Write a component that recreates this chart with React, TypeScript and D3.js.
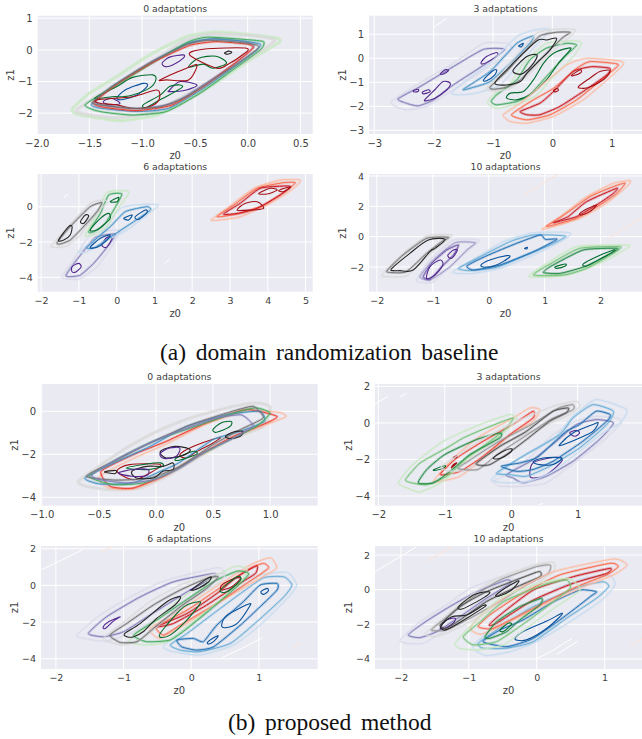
import React, { useEffect, useRef } from 'react'
import * as d3 from 'd3'

type Pt = [number, number]
type Cluster = { shades: string[]; rings: Pt[][]; cores: Pt[][]; faint?: boolean }

const purples = ['#dadaeb', '#bcbddc', '#9e9ac8', '#807dba', '#6a51a3', '#54278f']
const blues = ['#c6dbef', '#9ecae1', '#6baed6', '#4292c6', '#2171b5', '#08519c']
const greens = ['#c7e9c0', '#a1d99b', '#74c476', '#41ab5d', '#238b45', '#006d2c']
const reds = ['#fcbba1', '#fc9272', '#fb6a4a', '#ef3b2c', '#cb181d', '#a50f15']
const greys = ['#d9d9d9', '#bdbdbd', '#969696', '#737373', '#525252', '#252525']

// top row, (a) 0 adaptations
const a0GreenRings: Pt[][] = [
  [[-1.66,-1.85],[-1.5,-1.37],[-1.24,-0.84],[-0.93,-0.16],[-0.58,0.42],[-0.33,0.56],[-0.14,0.53],[0.28,0.37],[0.29,0.21],[0.05,-0.26],[-0.26,-0.95],[-0.58,-1.58],[-0.86,-2.06],[-1.21,-2.24],[-1.5,-2.11],[-1.64,-2]],
  [[-1.54,-1.74],[-1.28,-1.18],[-0.93,-0.47],[-0.58,0.23],[-0.39,0.4],[-0.07,0.34],[0.15,0.26],[0.12,0],[-0.14,-0.63],[-0.45,-1.37],[-0.77,-1.95],[-1.09,-2.06],[-1.4,-1.95]],
]
const a0GreenCores: Pt[][] = [
  [[-1.45,-1.53],[-1.24,-1.16],[-1.09,-0.87],[-0.9,-0.79],[-0.87,-0.95],[-0.93,-1.21],[-1.09,-1.43],[-1.18,-1.48],[-1.28,-1.48]],
  [[-0.99,-1.74],[-0.83,-1.43],[-0.74,-1.16],[-0.64,-1.11],[-0.63,-1.21],[-0.83,-1.58],[-0.96,-1.82]],
  [[-0.56,-0.55],[-0.47,-0.27],[-0.3,-0.2],[-0.2,-0.42],[-0.33,-0.58],[-0.42,-0.45]],
]
const a0BlueRings: Pt[][] = [[[-1.48,-1.72],[-1.26,-1.1],[-0.93,-0.45],[-0.58,0.2],[-0.35,0.34],[-0.05,0.28],[0.12,0.18],[0.08,-0.03],[-0.12,-0.52],[-0.42,-1.22],[-0.75,-1.85],[-1.05,-1.95],[-1.38,-1.85]]]
const a0BlueCores: Pt[][] = [[[-1.24,-1.53],[-1.16,-1.27],[-0.99,-1.06],[-0.95,-1.14],[-1.05,-1.43],[-1.18,-1.57]]]
const a0RedRings: Pt[][] = [[[-1.46,-1.68],[-1.22,-1.04],[-0.9,-0.4],[-0.55,0.14],[-0.3,0.26],[0,0.18],[0.05,0.05],[-0.12,-0.42],[-0.4,-1.12],[-0.72,-1.75],[-1.05,-1.92],[-1.35,-1.82]]]
const a0RedCores: Pt[][] = [
  [[-0.83,-0.95],[-0.58,-0.58],[-0.48,-0.48],[-0.56,-0.95],[-0.77,-0.95]],
  [[-0.55,-0.16],[-0.42,0.02],[-0.01,0.05],[-0.07,-0.21],[-0.17,-0.42],[-0.29,-0.58]],
  [[-1.43,-1.58],[-1.09,-1.48],[-0.86,-1.27],[-0.84,-1.58],[-0.93,-1.8],[-1.09,-1.85],[-1.24,-1.74],[-1.4,-1.69]],
]
const a0PurpleRings: Pt[][] = [[[-1.45,-1.62],[-1.2,-1],[-0.9,-0.35],[-0.56,0.2],[-0.3,0.36],[0,0.24],[0.06,0.1],[-0.1,-0.38],[-0.38,-1.02],[-0.7,-1.68],[-1.02,-1.86],[-1.32,-1.78]]]
const a0PurpleCores: Pt[][] = [
  [[-0.81,-0.42],[-0.74,-0.23],[-0.61,-0.16],[-0.61,-0.26],[-0.71,-0.48],[-0.78,-0.53]],
  [[-0.74,-1.27],[-0.64,-1],[-0.48,-1.11],[-0.58,-1.27],[-0.74,-1.32]],
  [[-1.37,-1.64],[-1.29,-1.53],[-1.21,-1.69],[-1.31,-1.74]],
]
const a0GreyRings: Pt[][] = [
  [[-1.62,-1.9],[-1.35,-1.3],[-1,-0.6],[-0.6,0.3],[-0.35,0.5],[0.05,0.45],[0.26,0.3],[0.05,-0.2],[-0.3,-0.9],[-0.65,-1.55],[-0.9,-1.98],[-1.25,-2.15],[-1.55,-2.02]],
  [[-1.47,-1.64],[-1.24,-1.06],[-0.93,-0.42],[-0.58,0.16],[-0.39,0.3],[-0.14,0.26],[0.08,0.16],[0.1,0.05],[-0.07,-0.37],[-0.33,-0.95],[-0.58,-1.48],[-0.83,-1.8],[-1.08,-1.85],[-1.4,-1.74]],
]
const a0GreyCores: Pt[][] = [[[-0.22,-0.1],[-0.18,-0.04],[-0.15,-0.08],[-0.19,-0.14]]]

// (a) 3 adaptations
const a3PurpleRings: Pt[][] = [
  [[-2.71,-1.8],[-2.29,-1.11],[-1.67,-0.21],[-1.16,0.62],[-0.77,0.62],[-0.69,0.35],[-1.11,-0.42],[-1.67,-1.31],[-2.12,-2],[-2.46,-2.15],[-2.66,-1.98]],
  [[-2.6,-1.69],[-2.23,-1.18],[-1.67,-0.35],[-1.16,0.37],[-0.8,0.37],[-1.11,-0.21],[-1.67,-1.11],[-2,-1.73],[-2.26,-1.98],[-2.46,-1.87]],
]
const a3PurpleCores: Pt[][] = [
  [[-1.2,-0.17],[-1.11,0.07],[-0.94,0.24],[-0.93,0.1],[-1.08,-0.14],[-1.18,-0.24]],
  [[-1.89,-0.65],[-1.81,-0.48],[-1.75,-0.51],[-1.83,-0.65]],
  [[-2.34,-1.34],[-2.26,-1.29],[-2.26,-1.37],[-2.33,-1.4]],
  [[-2.19,-1.41],[-2.09,-1.31],[-2.06,-1.4],[-2.17,-1.48]],
  [[-2.15,-1.73],[-1.98,-1.31],[-1.84,-0.97],[-1.72,-1.04],[-1.78,-1.31],[-1.98,-1.66],[-2.12,-1.77]],
]
const a3BlueRings: Pt[][] = [
  [[-1.7,-1.45],[-1.44,-0.9],[-1.05,-0.21],[-0.6,0.9],[-0.26,1.2],[-0.04,1.18],[-0.32,0.42],[-0.6,-0.35],[-0.88,-1.11],[-1.28,-1.45],[-1.56,-1.52]],
  [[-1.5,-1.29],[-1.05,-0.55],[-0.6,0.62],[-0.32,0.93],[-0.38,0.62],[-0.71,-0.21],[-1.05,-0.97],[-1.39,-1.25]],
]
const a3BlueCores: Pt[][] = [
  [[-1.16,-0.9],[-1.02,-0.55],[-0.94,-0.48],[-0.97,-0.69],[-1.11,-0.94]],
  [[-0.57,0.51],[-0.49,0.62],[-0.52,0.48]],
]
const a3GreenRings: Pt[][] = [
  [[-1.09,-1.87],[-1,-1.52],[-0.71,-1.04],[-0.49,-0.21],[-0.1,0.62],[0.35,0.73],[0.49,0.62],[0.35,0.07],[0.02,-0.76],[-0.26,-1.52],[-0.54,-1.87],[-0.94,-2.08]],
  [[-1.03,-1.8],[-0.94,-1.52],[-0.6,-0.9],[-0.38,-0.07],[-0.1,0.42],[0.24,0.62],[0.41,0.55],[0.24,0.14],[-0.1,-0.76],[-0.38,-1.52],[-0.6,-1.8],[-0.94,-1.94]],
]
const a3GreenCores: Pt[][] = [[[-0.77,-1.66],[-0.71,-1.45],[-0.49,-1.38],[-0.32,-0.9],[-0.15,-0.21],[0.02,0.21],[0.27,0.42],[0.3,0.35],[0.1,-0.21],[-0.1,-0.9],[-0.38,-1.52],[-0.6,-1.73]]]
const a3RedRings: Pt[][] = [
  [[-0.83,-2.35],[-0.54,-1.87],[-0.21,-1.18],[0.24,-0.28],[0.58,0],[1.14,-0.11],[1.19,-0.28],[0.92,-0.9],[0.52,-1.73],[0.02,-2.42],[-0.43,-2.7],[-0.71,-2.63]],
  [[-0.69,-2.35],[-0.32,-1.73],[0.02,-1.25],[0.41,-0.42],[0.63,-0.14],[1.03,-0.21],[1.11,-0.3],[0.86,-0.83],[0.41,-1.73],[-0.04,-2.35],[-0.43,-2.56]],
  [[-0.54,-2.21],[-0.21,-1.87],[0.02,-1.38],[0.35,-0.55],[0.66,-0.35],[0.97,-0.42],[0.92,-0.69],[0.52,-1.38],[0.13,-2],[-0.21,-2.35],[-0.43,-2.35]],
]
const a3RedCores: Pt[][] = [
  [[0.44,-1.18],[0.63,-0.83],[0.8,-0.55],[0.97,-0.51],[0.89,-0.83],[0.63,-1.2],[0.5,-1.25]],
  [[0.02,-1.34],[0.08,-1.26],[0.1,-1.34],[0.04,-1.4]],
  [[0.33,-0.69],[0.47,-0.48],[0.48,-0.6],[0.35,-0.73]],
]
const a3GreyRings: Pt[][] = [
  [[-1.11,-1.25],[-0.88,-0.69],[-0.6,0.14],[-0.26,1.04],[0.02,1.2],[0.38,1.2],[0.3,0.9],[-0.1,0.07],[-0.43,-0.76],[-0.71,-1.25],[-0.99,-1.38]],
  [[-1.05,-1.2],[-0.77,-0.55],[-0.49,0.21],[-0.21,0.93],[0.07,1.08],[0.3,1.08],[0.16,0.83],[-0.21,-0.07],[-0.54,-0.9],[-0.77,-1.2],[-0.99,-1.29]],
]
const a3GreyCores: Pt[][] = [
  [[-0.97,-1.04],[-0.77,-0.48],[-0.49,0.21],[-0.24,0.76],[-0.1,0.76],[0.07,0.83],[-0.04,0.35],[-0.21,-0.07],[-0.43,-0.62],[-0.54,-0.97],[-0.77,-1.11]],
  [[-0.66,-0.48],[-0.43,0.07],[-0.26,0.14],[-0.32,-0.21],[-0.49,-0.62],[-0.6,-0.65]],
]
const a3Strays: Pt[][] = [[[-2,1.29],[-1.78,1.66]],[[0.27,-1.98],[0.44,-1.7]]]

// (a) 6 adaptations
const a6GreyRings: Pt[][] = [
  [[-1.74,-2.23],[-1.32,-1.23],[-0.7,0.19],[-0.34,0.38],[-0.26,0.23],[-0.61,-0.57],[-0.96,-1.6],[-1.32,-2.23],[-1.58,-2.3]],
  [[-1.58,-2.04],[-1.23,-1.13],[-0.7,0],[-0.39,0.23],[-0.52,-0.28],[-0.92,-1.23],[-1.23,-1.89],[-1.49,-2.11]],
]
const a6GreyCores: Pt[][] = [
  [[-1.54,-1.89],[-1.27,-1.13],[-1.18,-1.13],[-1.23,-1.6],[-1.4,-1.89]],
  [[-0.96,-0.85],[-0.83,-0.47],[-0.74,-0.53],[-0.87,-0.94]],
]
const a6GreenRings: Pt[][] = [
  [[-0.83,-1.6],[-0.52,-0.38],[-0.27,0.79],[0.23,0.91],[0.32,0.75],[0.01,-0.19],[-0.26,-1.13],[-0.61,-1.6]],
  [[-0.74,-1.42],[-0.43,-0.38],[-0.21,0.66],[0.14,0.72],[-0.08,-0.19],[-0.34,-1.04],[-0.61,-1.42]],
]
const a6GreenCores: Pt[][] = [
  [[-0.7,-1.32],[-0.43,-0.66],[-0.21,-0.38],[-0.17,-0.66],[-0.3,-0.94],[-0.52,-1.32]],
  [[-0.17,0.28],[0.05,0.53],[0.01,0.28]],
]
const a6BlueRings: Pt[][] = [
  [[-1,-2.55],[-0.43,-1.6],[0.1,-0.09],[0.72,0.13],[1.11,0.09],[0.8,-0.47],[0.27,-1.32],[-0.34,-1.98],[-0.79,-2.55]],
  [[-0.79,-2.3],[-0.17,-1.13],[0.23,-0.28],[0.8,0],[0.89,-0.19],[0.45,-0.85],[-0.08,-1.6],[-0.56,-2.3]],
]
const a6BlueCores: Pt[][] = [
  [[0.49,-0.57],[0.76,-0.19],[0.8,-0.34],[0.58,-0.72]],
  [[0.19,-0.66],[0.41,-0.47],[0.32,-0.75]],
  [[-0.7,-2.3],[-0.43,-1.79],[-0.17,-1.6],[-0.3,-1.98],[-0.52,-2.3]],
]
const a6PurpleRings: Pt[][] = [
  [[-1.45,-3.96],[-1.14,-3.02],[-0.7,-1.6],[0.05,-1.32],[-0.08,-2.08],[-0.52,-3.4],[-0.96,-4.06],[-1.27,-4.11]],
  [[-1.34,-3.87],[-0.96,-2.74],[-0.56,-1.74],[-0.04,-1.55],[-0.21,-2.17],[-0.61,-3.21],[-0.96,-3.87],[-1.23,-3.96]],
]
const a6PurpleCores: Pt[][] = [
  [[-1.18,-3.4],[-1.01,-3.21],[-0.94,-3.4],[-1.07,-3.68],[-1.18,-3.68]],
  [[-0.39,-2.17],[-0.26,-1.74],[-0.12,-1.79],[-0.27,-2.3]],
]
const a6RedRings: Pt[][] = [
  [[2.5,-0.75],[2.92,-0.09],[3.63,1.04],[4.33,1.51],[4.86,1.51],[4.69,1.04],[4.07,0.19],[3.27,-0.57],[2.74,-0.75]],
  [[2.66,-0.57],[3.1,0.09],[3.72,1.04],[4.42,1.36],[4.73,1.36],[4.51,0.94],[3.89,0.09],[3.27,-0.38]],
  [[2.83,-0.42],[3.27,0.19],[3.8,1.04],[4.42,1.17],[4.6,1.13],[4.33,0.66],[3.72,-0.09],[3.19,-0.38]],
]
const a6RedCores: Pt[][] = [
  [[3.19,-0.19],[3.41,0.19],[3.72,0.28],[3.89,-0.09],[3.54,-0.19]],
  [[3.76,0.75],[4.07,1.04],[4.25,0.94],[3.98,0.72]],
  [[4.29,0.91],[4.51,1.09],[4.6,1.09],[4.42,0.85]],
]
const a6Strays: Pt[][] = [[[-1.4,0.51],[-1.29,0.7]],[[1.27,-3.21],[1.4,-2.96]]]

// (a) 10 adaptations
const a10GreyRings: Pt[][] = [
  [[-1.91,-2.53],[-1.59,-1.32],[-1.11,0.04],[-0.66,0.11],[-0.78,-0.33],[-1.11,-1.32],[-1.47,-2.59],[-1.82,-2.64]],
  [[-1.82,-2.26],[-1.53,-1.21],[-1.11,-0.11],[-0.72,-0.04],[-0.84,-0.33],[-1.11,-1.1],[-1.47,-2.31],[-1.73,-2.37]],
]
const a10GreyCores: Pt[][] = [[[-1.73,-2.09],[-1.41,-1.1],[-1.08,-0.22],[-0.78,-0.18],[-0.96,-0.77],[-1.05,-0.99],[-1.35,-2.2],[-1.59,-2.24],[-1.71,-2.24]]]
const a10PurpleRings: Pt[][] = [
  [[-1.29,-2.86],[-1.05,-1.54],[-0.63,-0.22],[-0.17,-0.22],[-0.33,-0.77],[-0.63,-1.76],[-0.99,-2.97],[-1.2,-3.03]],
  [[-1.23,-2.64],[-0.99,-1.54],[-0.6,-0.4],[-0.24,-0.4],[-0.39,-0.88],[-0.69,-1.98],[-1.05,-2.86]],
  [[-1.17,-2.64],[-1.02,-1.76],[-0.75,-0.88],[-0.54,-0.55],[-0.63,-1.21],[-0.84,-1.98],[-1.05,-2.81]],
]
const a10PurpleCores: Pt[][] = [
  [[-0.73,-1.21],[-0.63,-0.88],[-0.56,-0.88],[-0.63,-1.32],[-0.69,-1.43]],
  [[-1.11,-2.75],[-1.05,-1.98],[-0.87,-1.54],[-0.82,-1.87],[-0.96,-2.53]],
]
const a10BlueRings: Pt[][] = [
  [[-0.64,-2.31],[-0.33,-1.65],[0.26,-0.33],[0.8,0.26],[1.45,0.26],[1.34,-0.22],[0.8,-1.21],[0.2,-2.09],[-0.27,-2.42],[-0.57,-2.42]],
  [[-0.54,-2.09],[-0.15,-1.32],[0.38,-0.33],[0.8,0.11],[1.37,0.04],[1.16,-0.44],[0.68,-1.21],[0.14,-2.02],[-0.33,-2.24]],
  [[-0.39,-1.93],[-0.04,-1.27],[0.5,-0.44],[0.92,0.11],[1.01,-0.18],[1.22,-0.18],[0.8,-0.99],[0.2,-1.87],[-0.27,-2.2]],
]
const a10BlueCores: Pt[][] = [
  [[-0.14,-1.87],[0.02,-1.54],[0.32,-1.25],[0.37,-1.36],[0.14,-1.87],[-0.07,-2.02]],
  [[0.64,-0.77],[0.69,-0.7],[0.68,-0.81]],
]
const a10GreenRings: Pt[][] = [
  [[0.71,-2.64],[1.04,-1.76],[1.57,-0.66],[2.47,-0.55],[2.5,-0.7],[2.11,-1.54],[1.51,-2.42],[1.16,-2.64]],
  [[0.8,-2.53],[1.1,-1.8],[1.63,-0.77],[2.35,-0.66],[2.23,-1.1],[1.75,-2.09],[1.34,-2.53]],
  [[0.98,-2.37],[1.1,-1.98],[1.69,-0.88],[2.29,-0.77],[2.23,-0.99],[1.75,-1.93],[1.28,-2.42]],
]
const a10GreenCores: Pt[][] = [
  [[1.69,-1.8],[1.93,-1.32],[2.23,-0.88],[2.23,-0.99],[2.02,-1.43],[1.75,-1.93]],
  [[1.19,-1.98],[1.37,-1.8],[1.37,-1.93],[1.22,-2.09]],
]
const a10RedRings: Pt[][] = [
  [[0.95,0.48],[1.28,1.32],[1.75,2.64],[2.23,3.52],[2.53,3.69],[2.47,3.3],[2.11,2.2],[1.63,1.21],[1.16,0.66]],
  [[1.04,0.7],[1.39,1.54],[1.81,2.64],[2.23,3.3],[2.44,3.52],[2.29,2.86],[1.99,2.09],[1.57,1.21],[1.16,0.77]],
  [[1.16,0.92],[1.42,1.32],[1.75,2.31],[2.29,3.19],[2.23,2.86],[1.93,2.09],[1.57,1.32],[1.28,1.03]],
]
const a10RedCores: Pt[][] = [[[1.63,1.54],[1.78,1.87],[1.93,2.09],[1.81,1.65],[1.66,1.43]]]
const a10PaleStrays: Pt[][] = [[[0.63,2.75],[1.25,4.13]],[[2.14,-0.11],[2.74,1.27]]]

// (b) 0 adaptations
const b0GreyRings: Pt[][] = [
  [[-0.68,-3.26],[-0.52,-2.64],[-0.26,-1.71],[0.01,-0.93],[0.3,-0.31],[0.68,0.23],[0.88,0.39],[1,0.2],[0.94,-0.7],[0.65,-1.32],[0.39,-2.09],[0.12,-2.95],[-0.14,-3.57],[-0.4,-3.64],[-0.61,-3.49]],
  [[-0.61,-3.02],[-0.34,-2.25],[-0.05,-1.47],[0.27,-0.7],[0.62,-0.08],[0.85,0.23],[0.94,-0.31],[0.74,-0.85],[0.5,-1.55],[0.21,-2.56],[-0.05,-3.1],[-0.35,-3.2]],
]
const b0GreyCores: Pt[][] = [
  [[0.61,-1.16],[0.68,-0.96],[0.76,-0.93],[0.74,-1.16],[0.65,-1.27]],
  [[-0.45,-2.82],[-0.35,-2.75],[-0.36,-2.9]],
  [[-0.21,-2.79],[-0.08,-2.56],[0.06,-2.56],[0.15,-2.4],[0.15,-2.71],[0.06,-2.79],[-0.02,-3.1],[-0.17,-3.1]],
  [[0.04,-1.86],[0.17,-1.63],[0.3,-1.78],[0.24,-2.05],[0.09,-2.17]],
]
const b0OrangeRings: Pt[][] = [
  [[-0.5,-3.05],[-0.2,-2.2],[0.1,-1.5],[0.44,-0.6],[0.8,0.02],[1.08,-0.05],[1.14,-0.25],[0.97,-0.62],[0.68,-1.22],[0.36,-2.15],[0.09,-3],[-0.2,-3.62],[-0.42,-3.55]],
  [[-0.48,-2.79],[-0.2,-2.02],[0.09,-1.4],[0.44,-0.54],[0.79,0.08],[1.06,-0.23],[0.97,-0.54],[0.68,-1.16],[0.36,-2.09],[0.09,-2.95],[-0.2,-3.57],[-0.4,-3.49]],
]
const b0OrangeCores: Pt[][] = [
  [[0.21,-2.02],[0.33,-1.63],[0.56,-1.21],[0.5,-1.47],[0.36,-1.86],[0.27,-2.17]],
  [[-0.34,-2.79],[-0.23,-2.48],[0.04,-2.48],[-0.08,-2.95],[-0.2,-3.18]],
]
const b0GreenRings: Pt[][] = [
  [[-0.58,-3.02],[-0.29,-2.09],[0.01,-1.32],[0.39,-0.62],[0.74,0],[0.88,0.16],[1,-0.08],[0.88,-0.7],[0.62,-1.4],[0.39,-2.02],[0.15,-2.79],[-0.11,-3.33],[-0.37,-3.41]],
]
const b0GreenCores: Pt[][] = [
  [[0.5,-0.85],[0.57,-0.54],[0.66,-0.47],[0.65,-0.7],[0.56,-0.93],[0.52,-0.98]],
  [[0.18,-2.17],[0.33,-1.86],[0.36,-1.98],[0.27,-2.17],[0.18,-2.29]],
  [[-0.26,-2.64],[-0.08,-2.45],[0.04,-2.4],[0.06,-2.56],[-0.08,-2.71]],
]
const b0BlueRings: Pt[][] = [
  [[-0.62,-3.1],[-0.34,-2.33],[-0.05,-1.63],[0.27,-0.7],[0.62,-0.16],[0.91,0],[0.95,-0.47],[0.74,-0.93],[0.5,-1.32],[0.2,-2.4],[0.04,-2.79],[-0.2,-3.33],[-0.49,-3.38]],
]
const b0PurpleRings: Pt[][] = [
  [[-0.56,-2.95],[-0.32,-2.17],[-0.05,-1.47],[0.24,-0.85],[0.53,-0.31],[0.74,-0.16],[0.81,-0.39],[0.85,-0.7],[0.68,-1.24],[0.44,-1.86],[0.21,-2.64],[-0.02,-3.18],[-0.26,-3.33],[-0.49,-3.18]],
]
const b0PurpleCores: Pt[][] = [
  [[0.04,-1.94],[0.12,-1.71],[0.21,-1.71],[0.18,-2.09],[0.09,-2.2],[0.05,-2.14]],
  [[-0.33,-2.87],[-0.2,-2.71],[-0.07,-2.71],[-0.08,-2.98],[-0.21,-3.02]],
]

// (b) 3 adaptations
const b3GreenRings: Pt[][] = [
  [[-1.7,-3.28],[-1.48,-2.28],[-1.02,-1],[-0.47,-0.09],[-0.02,0.46],[0.08,0.18],[-0.17,-0.73],[-0.67,-2],[-1.02,-3.19],[-1.37,-3.78],[-1.57,-3.55]],
  [[-1.59,-3.1],[-1.37,-2.19],[-0.97,-1.37],[-0.72,-0.82],[-0.37,-0.27],[0.03,0.27],[-0.15,-0.55],[-0.67,-1.92],[-0.97,-2.92],[-1.27,-3.38],[-1.5,-3.28]],
  [[-1.4,-3.28],[-1.27,-2.55],[-1,-1.73],[-0.52,-0.91],[-0.17,-0.55],[-0.17,-0.82],[-0.62,-1.73],[-0.92,-2.65],[-1.17,-3.28]],
]
const b3GreenCores: Pt[][] = [[[-1.16,-2.55],[-1,-2.34],[-1.01,-2.46],[-1.15,-2.6]]]
const b3RedRings: Pt[][] = [
  [[-1.17,-3.19],[-0.87,-1.92],[-0.47,-0.73],[0.03,0.27],[0.28,0.82],[0.43,0.73],[0.33,0.09],[-0.07,-0.82],[-0.47,-2.1],[-0.77,-2.92],[-1.02,-3.16]],
  [[-1.07,-2.83],[-0.82,-1.92],[-0.42,-1],[0.06,0],[0.33,0.64],[0.33,0.27],[-0.02,-0.64],[-0.42,-1.82],[-0.77,-2.65]],
]
const b3RedCores: Pt[][] = [
  [[-0.87,-1.88],[-0.82,-1.8],[-0.83,-1.92]],
  [[-0.87,-2.28],[-0.9,-2.46],[-0.82,-2.19]],
]
const b3GreyRings: Pt[][] = [
  [[-1.05,-2.37],[-0.82,-1.82],[-0.52,-1.09],[-0.02,-0.09],[0.63,0.91],[0.98,1.19],[1.03,0.91],[0.88,0.46],[0.43,-0.27],[-0.07,-1.09],[-0.37,-1.82],[-0.67,-2.55],[-0.87,-2.65],[-1.02,-2.55]],
  [[-0.65,-2.1],[-0.2,-1.05],[0.3,-0.1],[0.72,0.82],[0.93,1],[0.93,0.72],[0.6,0.2],[0.2,-0.75],[-0.2,-1.7],[-0.5,-2.55],[-0.8,-2.5]],
  [[-0.52,-2.19],[-0.17,-1.28],[0.23,-0.46],[0.63,0.64],[0.86,0.82],[0.83,0.55],[0.58,0.09],[0.23,-0.91],[-0.07,-1.73],[-0.32,-2.28],[-0.47,-2.32]],
]
const b3GreyCores: Pt[][] = [[[-0.27,-1.92],[-0.12,-1.55],[0.01,-1.42],[-0.02,-1.64],[-0.17,-1.95]]]
const b3BlueRings: Pt[][] = [
  [[-0.3,-3.1],[0.13,-1.92],[0.63,-0.91],[0.93,0.36],[1.28,1.28],[1.74,0.73],[1.64,0],[1.38,-0.55],[1.03,-1.55],[0.63,-2.65],[0.28,-3.19],[-0.07,-3.28]],
  [[-0.22,-2.74],[0.18,-1.82],[0.73,-0.64],[0.93,0.27],[1.23,1],[1.54,0.64],[1.44,-0.09],[1.03,-1.37],[0.58,-2.37],[0.23,-2.92],[-0.02,-2.83]],
  [[-0.15,-2.37],[0.13,-2.19],[0.38,-1.92],[0.58,-1.28],[0.83,-0.46],[1.03,-0.09],[1.28,0.64],[1.49,0.46],[1.44,0.09],[1.08,-1],[0.63,-2.1],[0.33,-2.55],[0.08,-2.65]],
]
const b3BlueCores: Pt[][] = [
  [[0.73,-1.19],[0.93,-0.55],[1.23,-0.09],[1.31,0],[1.23,-0.46],[1.03,-0.82],[0.78,-1.19]],
  [[0.33,-2.13],[0.48,-1.92],[0.76,-1.92],[0.63,-2.28],[0.43,-2.28]],
]
const b3PurpleRings: Pt[][] = [
  [[-0.27,-3.19],[-0.07,-2.83],[0.33,-1.73],[0.63,-0.64],[0.98,0.09],[1.28,0.36],[1.59,0.27],[1.66,0],[1.38,-1],[0.98,-2.1],[0.53,-3.28],[0.13,-3.47],[-0.17,-3.47]],
  [[-0.07,-2.83],[0.33,-2.01],[0.68,-1],[0.98,-0.09],[1.28,0.18],[1.54,0],[1.33,-0.91],[0.93,-2.1],[0.53,-2.92],[0.18,-3.28],[0.03,-3.01]],
]
const b3PurpleCores: Pt[][] = [
  [[0.28,-2.83],[0.33,-2.19],[0.58,-1.92],[0.76,-1.92],[0.74,-2.19],[0.53,-2.83],[0.33,-3.01]],
  [[0.88,-0.55],[0.98,-0.4],[1.03,-0.55],[0.96,-0.73]],
]
const b3Strays: Pt[][] = [[[-2.05,1.04],[-1.85,1.46]],[[-1.68,1.41],[-1.57,1.64]],[[0.41,-4.5],[0.48,-4.38]]]

// (b) 6 adaptations
const b6PurpleRings: Pt[][] = [
  [[-1.69,-2.71],[-1.35,-1.62],[-0.85,-0.53],[-0.36,0.29],[0.33,0.93],[0.45,0.93],[0.48,0.56],[0.13,-0.25],[-0.36,-1.44],[-0.85,-2.53],[-1.25,-3.04],[-1.59,-2.89]],
  [[-1.52,-2.62],[-1.25,-1.71],[-0.75,-0.62],[-0.26,0.2],[0.33,0.65],[0.33,0.47],[-0.06,-0.35],[-0.61,-1.62],[-1,-2.53],[-1.3,-2.8]],
]
const b6PurpleCores: Pt[][] = [
  [[-1.3,-2.25],[-1.22,-1.98],[-1.05,-1.71],[-1.15,-1.95],[-1.27,-2.35]],
  [[-0.01,-0.25],[0.13,0.02],[0.23,0.2],[0.18,0.02],[0.03,-0.25]],
]
const b6GreyRings: Pt[][] = [
  [[-1.3,-2.89],[-1.05,-2.16],[-0.61,-0.89],[-0.16,0.02],[0.28,0.56],[0.5,0.65],[0.43,0.2],[0.03,-0.71],[-0.36,-1.8],[-0.71,-2.89],[-1,-3.25],[-1.15,-3.16]],
  [[-1.2,-2.71],[-0.95,-2.07],[-0.56,-1.07],[-0.16,-0.25],[0.23,0.38],[0.4,0.47],[0.23,-0.16],[-0.16,-1.16],[-0.56,-2.35],[-0.8,-3.07],[-1.05,-3.11]],
]
const b6GreyCores: Pt[][] = [
  [[-0.98,-2.62],[-0.75,-2.07],[-0.36,-0.89],[-0.16,-0.62],[-0.24,-1.07],[-0.51,-1.8],[-0.71,-2.53],[-0.85,-2.8],[-0.95,-2.8]],
  [[0.01,-0.25],[0.13,0.11],[0.29,0.47],[0.26,0.2],[0.11,-0.16]],
]
const b6GreenRings: Pt[][] = [
  [[-0.93,-3.07],[-0.61,-2.16],[-0.21,-0.89],[0.23,0.2],[0.63,1.02],[0.82,0.93],[0.77,0.38],[0.43,-0.8],[0.03,-1.98],[-0.36,-3.07],[-0.66,-3.25]],
  [[-0.85,-2.71],[-0.51,-1.89],[-0.11,-0.89],[0.33,0.2],[0.68,0.78],[0.85,0.65],[0.73,0.11],[0.33,-1.16],[-0.06,-2.35],[-0.31,-2.98],[-0.66,-3.07]],
]
const b6GreenCores: Pt[][] = [
  [[-0.47,-2.71],[-0.36,-2.16],[-0.11,-1.16],[0.13,-0.89],[0.08,-1.25],[-0.11,-2.07],[-0.31,-2.71],[-0.43,-2.84]],
  [[0.43,-0.25],[0.68,0.47],[0.73,0.29],[0.53,-0.35]],
]
const b6RedRings: Pt[][] = [
  [[-0.61,-2.35],[-0.16,-1.35],[0.33,-0.16],[0.87,1.11],[1.17,1.51],[1.26,0.93],[0.97,0.29],[0.43,-0.89],[-0.06,-2.07],[-0.46,-2.89]],
  [[-0.51,-2.25],[-0.06,-1.35],[0.38,-0.25],[0.87,0.93],[1.07,1.2],[1.14,0.93],[0.82,0.11],[0.38,-0.98],[-0.16,-2.16],[-0.41,-2.71]],
  [[-0.51,-2.25],[-0.06,-1.53],[0.38,-0.44],[0.68,0.47],[0.97,1.07],[0.95,0.65],[0.68,0.02],[0.23,-1.07],[-0.26,-2.07]],
]
const b6RedCores: Pt[][] = [[[0.45,0.02],[0.63,0.38],[0.73,0.38],[0.6,-0.07],[0.45,-0.25]]]
const b6BlueRings: Pt[][] = [
  [[-0.41,-3.35],[-0.16,-2.53],[0.23,-1.53],[0.63,-0.35],[1.02,0.56],[1.42,0.71],[1.56,0.02],[1.42,-0.71],[1.02,-2.16],[0.63,-3.25],[0.13,-3.8],[-0.26,-3.62]],
  [[-0.31,-3.25],[-0.06,-2.62],[0.33,-1.53],[0.73,-0.44],[1.07,0.42],[1.37,0.47],[1.49,0.02],[1.37,-0.62],[0.97,-1.98],[0.58,-3.16],[0.13,-3.62],[-0.16,-3.53]],
  [[-0.21,-2.98],[0.03,-2.89],[0.18,-3.07],[0.38,-2.16],[0.77,-0.89],[1.02,0.02],[1.27,0.11],[1.27,-0.25],[1.02,-1.16],[0.73,-2.16],[0.33,-3.35],[0.08,-3.53],[-0.14,-3.35]],
]
const b6BlueCores: Pt[][] = [
  [[0.45,-2.16],[0.53,-1.62],[0.85,-1.02],[0.86,-1.16],[0.68,-2.07],[0.5,-2.31]],
  [[0.24,-3.11],[0.33,-2.85],[0.4,-2.76],[0.33,-3.07],[0.26,-3.2]],
  [[1.03,-0.35],[1.12,-0.16],[1.14,-0.31],[1.07,-0.49]],
]
const b6Strays: Pt[][] = [[[-2.22,0.84],[-1.71,1.75],[-1.59,1.98]],[[0.45,-3.95],[0.8,-3.35],[1.05,-2.85]]]
const b6PaleStrays: Pt[][] = [[[-1.32,1.84],[-1.17,2.11]],[[1.52,-3.4],[1.61,-3.16]]]

// (b) 10 adaptations
const b10PurpleRings: Pt[][] = [
  [[-2.01,-2.9],[-1.72,-1.85],[-1.33,-0.88],[-0.98,0.08],[-0.59,0.65],[-0.44,0.75],[-0.29,0.46],[-0.59,-0.21],[-1.03,-1.46],[-1.37,-2.42],[-1.67,-3.1],[-1.91,-3.1]],
  [[-1.89,-2.62],[-1.67,-1.94],[-1.28,-0.98],[-0.88,-0.12],[-0.44,0.56],[-0.39,0.37],[-0.74,-0.5],[-1.13,-1.56],[-1.47,-2.42],[-1.72,-2.77]],
]
const b10PurpleCores: Pt[][] = [[[-1.42,-2.23],[-1.33,-1.75],[-1.2,-1.65],[-1.23,-1.94],[-1.35,-2.23]]]
const b10GreyRings: Pt[][] = [
  [[-1.64,-2.52],[-1.37,-1.65],[-1.03,-0.5],[-0.59,0.65],[0,1.46],[0.25,1.58],[0.25,1.04],[-0.05,0.27],[-0.54,-0.88],[-0.98,-1.85],[-1.33,-2.52],[-1.52,-2.71]],
  [[-1.55,-2.33],[-1.28,-1.46],[-0.93,-0.4],[-0.54,0.56],[0,1.33],[0.2,1.42],[0.17,0.94],[-0.15,0.27],[-0.59,-0.79],[-1.03,-1.75],[-1.33,-2.33]],
  [[-1.42,-2.04],[-1.13,-0.98],[-0.74,-0.12],[-0.05,0.94],[0.05,1.04],[0.05,0.75],[-0.34,0.08],[-0.74,-0.69],[-1.13,-1.75],[-1.33,-2.23]],
]
const b10GreyCores: Pt[][] = [
  [[-1.41,-2.08],[-1.25,-1.56],[-1.03,-1.46],[-0.79,-0.92],[-0.76,-0.98],[-1.03,-1.65],[-1.28,-2.23],[-1.37,-2.33]],
  [[-1.15,-0.98],[-0.93,-0.31],[-0.71,-0.12],[-0.71,-0.27],[-0.88,-0.69],[-1.1,-1.12]],
  [[-0.6,-0.31],[-0.39,0.27],[-0.26,0.5],[-0.37,-0.02],[-0.54,-0.35]],
]
const b10RedRings: Pt[][] = [
  [[-0.98,-2.23],[-0.79,-1.37],[-0.34,-0.12],[0.25,1.04],[1.13,1.77],[1.33,1.42],[1.13,0.85],[0.64,0.08],[0,-1.08],[-0.54,-2.13],[-0.83,-2.58]],
  [[-0.86,-2.13],[-0.69,-1.46],[-0.25,-0.31],[0.34,0.85],[1.08,1.52],[1.2,1.33],[1.03,0.85],[0.59,0.17],[-0.05,-1.08],[-0.64,-2.23]],
  [[-0.7,-2.04],[-0.54,-1.46],[-0.05,-0.02],[0.54,0.75],[1.08,1.23],[1.03,0.94],[0.54,0.37],[-0.05,-0.6],[-0.59,-1.94]],
]
const b10BlueRings: Pt[][] = [
  [[-0.93,-3.19],[-0.64,-2.23],[-0.15,-1.08],[0.25,-0.02],[0.69,0.65],[1.08,0.81],[1.15,0.27],[0.96,-0.6],[0.49,-1.85],[0,-3],[-0.39,-3.58],[-0.74,-3.81],[-0.91,-3.48]],
  [[-0.86,-3.1],[-0.59,-2.33],[-0.05,-0.98],[0.64,0.17],[0.98,0.46],[1.06,0.17],[0.88,-0.5],[0.44,-1.65],[-0.05,-3],[-0.44,-3.38],[-0.79,-3.38]],
  [[-0.79,-3],[-0.54,-2.33],[-0.2,-1.75],[0.25,-0.69],[0.64,-0.02],[0.88,-0.12],[0.79,-0.4],[0.44,-1.46],[-0.05,-2.81],[-0.44,-3.29]],
]
const b10BlueCores: Pt[][] = [[[-0.32,-2.85],[-0.2,-2.42],[0.15,-1.81],[0.38,-1.37],[0.15,-2.23],[-0.15,-2.9]]]
const b10GreenRings: Pt[][] = [
  [[-1.2,-3.1],[-1.03,-2.33],[-0.54,-0.5],[0.05,0.37],[0.47,0.65],[0.64,-0.02],[0.25,-1.08],[-0.15,-2.23],[-0.49,-3.19],[-0.88,-3.48],[-1.13,-3.39]],
  [[-1.08,-2.71],[-0.83,-1.85],[-0.49,-0.69],[0.1,0.27],[0.44,0.56],[0.49,0.08],[0.15,-0.98],[-0.25,-2.13],[-0.59,-3],[-0.93,-3.19]],
  [[-0.76,-2.71],[-0.59,-1.85],[-0.25,-0.98],[0.07,-0.5],[0.05,-0.88],[-0.25,-1.75],[-0.44,-2.42],[-0.69,-2.81]],
]
const b10GreenCores: Pt[][] = [[[-0.54,-2.33],[-0.42,-1.94],[-0.37,-2],[-0.49,-2.42]]]
const b10Strays: Pt[][] = [[[-2.38,1.04],[-2.01,1.9],[-1.77,2.48]],[[0,-3.96],[0.17,-3.67],[0.52,-2.81]],[[0.3,-3.73],[0.61,-2.96]]]
const b10PaleStrays: Pt[][] = [[[-1.62,1.65],[-1.25,2.48]],[[1.37,-3.23],[1.55,-2.85]]]

const panels = [
  {
    title: '0 adaptations', box: [37.7, 312.7, 15.7, 134], xd: [-1.99, 0.617], yd: [1.08, -2.66],
    xt: [-2, -1.5, -1, -0.5, 0, 0.5], yt: [1, 0, -1, -2], xf: '.1f', fs: 10,
    clusters: [
      { shades: greens, rings: [a0GreenRings[0]], cores: [], faint: true },
      { shades: greys, rings: [a0GreyRings[0]], cores: [], faint: true },
      { shades: purples, rings: a0PurpleRings, cores: a0PurpleCores },
      { shades: blues, rings: a0BlueRings, cores: a0BlueCores },
      { shades: greens, rings: [a0GreenRings[1]], cores: a0GreenCores },
      { shades: reds, rings: a0RedRings, cores: a0RedCores },
      { shades: greys, rings: [a0GreyRings[1]], cores: a0GreyCores },
    ] as Cluster[],
  },
  {
    title: '3 adaptations', box: [369, 642, 15.7, 134], xd: [-3.09, 1.51], yd: [1.77, -3.15],
    xt: [-3, -2, -1, 0, 1], yt: [1, 0, -1, -2, -3], xf: 'd', fs: 10,
    clusters: [
      { shades: purples, rings: a3PurpleRings, cores: a3PurpleCores },
      { shades: blues, rings: a3BlueRings, cores: a3BlueCores },
      { shades: greens, rings: a3GreenRings, cores: a3GreenCores },
      { shades: reds, rings: a3RedRings, cores: a3RedCores },
      { shades: greys, rings: a3GreyRings, cores: a3GreyCores },
    ] as Cluster[],
    strays: a3Strays,
  },
  {
    title: '6 adaptations', box: [37.7, 312.7, 174, 291.7], xd: [-2.09, 5.19], yd: [1.85, -4.81],
    xt: [-2, -1, 0, 1, 2, 3, 4, 5], yt: [0, -2, -4], xf: 'd', fs: 9.5,
    clusters: [
      { shades: purples, rings: a6PurpleRings, cores: a6PurpleCores },
      { shades: blues, rings: a6BlueRings, cores: a6BlueCores },
      { shades: greens, rings: a6GreenRings, cores: a6GreenCores },
      { shades: reds, rings: a6RedRings, cores: a6RedCores },
      { shades: greys, rings: a6GreyRings, cores: a6GreyCores },
    ] as Cluster[],
    strays: a6Strays,
  },
  {
    title: '10 adaptations', box: [369, 642, 174, 291.7], xd: [-2.14, 2.74], yd: [4.13, -3.63],
    xt: [-2, -1, 0, 1, 2], yt: [4, 2, 0, -2], xf: 'd', fs: 9.5,
    clusters: [
      { shades: purples, rings: a10PurpleRings, cores: a10PurpleCores },
      { shades: blues, rings: a10BlueRings, cores: a10BlueCores },
      { shades: greens, rings: a10GreenRings, cores: a10GreenCores },
      { shades: reds, rings: a10RedRings, cores: a10RedCores },
      { shades: greys, rings: a10GreyRings, cores: a10GreyCores },
    ] as Cluster[],
    pale: a10PaleStrays,
  },
  {
    title: '0 adaptations', box: [41, 317.7, 384, 505.7], xd: [-1.006, 1.417], yd: [1.27, -4.39],
    xt: [-1, -0.5, 0, 0.5, 1], yt: [0, -2, -4], xf: '.1f', fs: 10,
    clusters: [
      { shades: greys, rings: [b0GreyRings[0]], cores: [], faint: true },
      { shades: reds, rings: b0OrangeRings, cores: b0OrangeCores },
      { shades: blues, rings: b0BlueRings, cores: [] },
      { shades: greens, rings: b0GreenRings, cores: b0GreenCores },
      { shades: greys, rings: [b0GreyRings[1]], cores: b0GreyCores },
      { shades: purples, rings: b0PurpleRings, cores: b0PurpleCores },
    ] as Cluster[],
  },
  {
    title: '3 adaptations', box: [375, 642, 384, 505.7], xd: [-2.05, 1.97], yd: [2.13, -4.53],
    xt: [-2, -1, 0, 1], yt: [2, 0, -2, -4], xf: 'd', fs: 10,
    clusters: [
      { shades: purples, rings: b3PurpleRings, cores: b3PurpleCores },
      { shades: blues, rings: b3BlueRings, cores: b3BlueCores },
      { shades: reds, rings: b3RedRings, cores: b3RedCores },
      { shades: greens, rings: b3GreenRings, cores: b3GreenCores },
      { shades: greys, rings: b3GreyRings, cores: b3GreyCores },
    ] as Cluster[],
    strays: b3Strays,
  },
  {
    title: '6 adaptations', box: [41, 317.7, 546, 669], xd: [-2.22, 1.87], yd: [2.15, -4.56],
    xt: [-2, -1, 0, 1], yt: [2, 0, -2, -4], xf: 'd', fs: 9.5,
    clusters: [
      { shades: purples, rings: b6PurpleRings, cores: b6PurpleCores },
      { shades: blues, rings: b6BlueRings, cores: b6BlueCores },
      { shades: reds, rings: b6RedRings, cores: b6RedCores },
      { shades: greens, rings: b6GreenRings, cores: b6GreenCores },
      { shades: greys, rings: b6GreyRings, cores: b6GreyCores },
    ] as Cluster[],
    strays: b6Strays,
    pale: b6PaleStrays,
  },
  {
    title: '10 adaptations', box: [375, 642, 546, 669], xd: [-2.38, 1.55], yd: [2.52, -4.58],
    xt: [-2, -1, 0, 1], yt: [2, 0, -2, -4], xf: 'd', fs: 9.5,
    clusters: [
      { shades: purples, rings: b10PurpleRings, cores: b10PurpleCores },
      { shades: greys, rings: b10GreyRings, cores: b10GreyCores },
      { shades: blues, rings: b10BlueRings, cores: b10BlueCores },
      { shades: reds, rings: b10RedRings, cores: [] },
      { shades: greens, rings: b10GreenRings, cores: b10GreenCores },
    ] as Cluster[],
    strays: b10Strays,
    pale: b10PaleStrays,
  },
]

const captions = [
  { text: '(a) domain randomization baseline', x: 160, y: 360 },
  { text: '(b) proposed method', x: 228, y: 730 },
]

// which palette shade each ring gets, by how many rings the cluster has
const ringShade: Record<number, number[]> = { 1: [3], 2: [0, 3], 3: [0, 2, 4], 4: [0, 1, 3, 4] }

const App = () => {
  const svgRef = useRef<SVGSVGElement>(null)

  useEffect(() => {
    const svg = d3.select(svgRef.current)
    svg.selectAll('*').remove()

    const filter = svg.append('defs').append('filter').attr('id', 'soft')
    filter.append('feGaussianBlur').attr('stdDeviation', 0.35)

    panels.forEach((p, i) => {
      const [l, r, t, b] = p.box
      const x = d3.scaleLinear().domain(p.xd).range([l, r])
      const y = d3.scaleLinear().domain(p.yd).range([t, b])
      const g = svg.append('g')

      g.append('clipPath').attr('id', `clip${i}`).append('rect')
        .attr('x', l).attr('y', t).attr('width', r - l).attr('height', b - t)

      g.append('rect')
        .attr('x', l).attr('y', t).attr('width', r - l).attr('height', b - t)
        .attr('fill', '#eaeaf2')

      const plot = g.append('g').attr('clip-path', `url(#clip${i})`).attr('filter', 'url(#soft)')

      plot.selectAll('line.gx').data(p.xt).enter().append('line')
        .attr('x1', d => x(d)).attr('x2', d => x(d)).attr('y1', t).attr('y2', b)
        .attr('stroke', '#fff').attr('stroke-width', 1)
      plot.selectAll('line.gy').data(p.yt).enter().append('line')
        .attr('y1', d => y(d)).attr('y2', d => y(d)).attr('x1', l).attr('x2', r)
        .attr('stroke', '#fff').attr('stroke-width', 1)

      const closed = d3.line<Pt>().x(d => x(d[0])).y(d => y(d[1])).curve(d3.curveCardinalClosed.tension(0.45))
      const round = d3.line<Pt>().x(d => x(d[0])).y(d => y(d[1])).curve(d3.curveCardinalClosed.tension(0.1))
      const open = d3.line<Pt>().x(d => x(d[0])).y(d => y(d[1]))

      ;(p.strays || []).forEach(s => {
        plot.append('path').attr('d', open(s)).attr('fill', 'none').attr('stroke', '#fff').attr('stroke-width', 1)
      })
      ;(p.pale || []).forEach(s => {
        plot.append('path').attr('d', open(s)).attr('fill', 'none').attr('stroke', '#fde3d8').attr('stroke-width', 1)
      })

      p.clusters.forEach(c => {
        const shades = c.faint ? [0] : ringShade[c.rings.length]
        c.rings.forEach((ring, k) => {
          // thick faint pass stands in for the dense gradient of contour levels
          plot.append('path').attr('d', closed(ring)).attr('fill', 'none')
            .attr('stroke', c.shades[shades[k]]).attr('stroke-width', c.faint ? 3.5 : 2.6).attr('stroke-opacity', c.faint ? 0.6 : 0.3)
          plot.append('path').attr('d', closed(ring)).attr('fill', 'none')
            .attr('stroke', c.shades[shades[k]]).attr('stroke-width', 1)
        })
        c.cores.forEach(core => {
          plot.append('path').attr('d', round(core)).attr('fill', 'none')
            .attr('stroke', c.shades[5]).attr('stroke-width', 1.1)
        })
      })

      const xAxis = d3.axisBottom(x).tickValues(p.xt).tickSize(0).tickPadding(5.6).tickFormat(d3.format(p.xf))
      const yAxis = d3.axisLeft(y).tickValues(p.yt).tickSize(0).tickPadding(5).tickFormat(d3.format('d'))
      const xg = g.append('g').attr('transform', `translate(0,${b})`).call(xAxis)
      const yg = g.append('g').attr('transform', `translate(${l},0)`).call(yAxis)
      ;[xg, yg].forEach(a => {
        a.select('.domain').remove()
        a.selectAll('text').attr('fill', '#404040').attr('font-size', p.fs).attr('font-family', 'DejaVu Sans')
      })

      g.append('text').text(p.title)
        .attr('x', (l + r) / 2).attr('y', t - 3.6).attr('text-anchor', 'middle')
        .attr('font-family', 'DejaVu Sans').attr('font-size', 9.3).attr('fill', '#404040')
      g.append('text').text('z0')
        .attr('x', (l + r) / 2).attr('y', b + 25).attr('text-anchor', 'middle')
        .attr('font-family', 'DejaVu Sans').attr('font-size', 10).attr('fill', '#404040')
      g.append('text').text('z1')
        .attr('transform', `translate(${l - 23.5},${(t + b) / 2}) rotate(-90)`).attr('text-anchor', 'middle')
        .attr('font-family', 'DejaVu Sans').attr('font-size', 10).attr('fill', '#404040')
    })

    svg.selectAll('text.caption').data(captions).enter().append('text')
      .attr('class', 'caption')
      .text(d => d.text)
      .attr('x', d => d.x).attr('y', d => d.y)
      .attr('word-spacing', 3.8)
      .attr('font-family', 'Liberation Serif').attr('font-size', 23.5).attr('fill', '#111')
  }, [])

  return (
    <svg
      ref={svgRef}
      width={642}
      height={739}
      style={{ position: 'absolute', left: 0, top: 0, background: '#fff' }}
    />
  )
}

export default App
